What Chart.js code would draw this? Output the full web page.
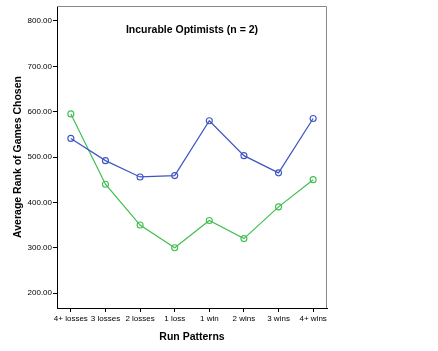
<!DOCTYPE html>
<html>
<head>
<meta charset="utf-8">
<script src="https://cdn.jsdelivr.net/npm/chart.js@4.4.1/dist/chart.umd.min.js"></script>
<style>
html,body{margin:0;padding:0;background:#fff;}
#wrap{width:438px;height:351px;position:relative;}
</style>
</head>
<body>
<div id="wrap"><canvas id="c" width="438" height="351"></canvas></div>
<script>
const categories = ["4+ losses","3 losses","2 losses","1 loss","1 win","2 wins","3 wins","4+ wins"];
const seriesBlue = [541, 492, 456, 459, 580, 503, 465, 585];
const seriesGreen = [595, 440, 350, 300, 360, 320, 390, 450];
const yTicks = [200, 300, 400, 500, 600, 700, 800];
const chartTitle = "Incurable Optimists (n = 2)";
const xTitle = "Run Patterns";
const yTitle = "Average Rank of Games Chosen";

const toPts = arr => arr.map((v,i)=>({x:i,y:v}));
const FONT = "'Liberation Sans', Arial, sans-serif";

const framePlugin = {
  id:'frame',
  afterDraw(chart){
    const {ctx, chartArea:a} = chart;
    ctx.save();
    ctx.strokeStyle = '#888';
    ctx.lineWidth = 1;
    ctx.beginPath();
    ctx.moveTo(a.left, a.top+0.5);
    ctx.lineTo(a.right-0.5, a.top+0.5);
    ctx.lineTo(a.right-0.5, a.bottom);
    ctx.stroke();
    ctx.fillStyle = '#000';
    ctx.font = "bold 10.5px " + FONT;
    ctx.textAlign = 'center';
    ctx.textBaseline = 'middle';
    ctx.fillText(chartTitle, (a.left+a.right)/2, 30);
    ctx.restore();
  }
};

new Chart(document.getElementById('c'), {
  type:'line',
  data:{
    datasets:[
      {label:'Blue', data:toPts(seriesBlue), borderColor:'#3d55c2', backgroundColor:'rgba(0,0,0,0)',
       borderWidth:1.2, pointRadius:3, pointBorderWidth:1.1, pointBackgroundColor:'rgba(0,0,0,0)', pointBorderColor:'#3d55c2', tension:0},
      {label:'Green', data:toPts(seriesGreen), borderColor:'#3fbf4f', backgroundColor:'rgba(0,0,0,0)',
       borderWidth:1.2, pointRadius:3, pointBorderWidth:1.1, pointBackgroundColor:'rgba(0,0,0,0)', pointBorderColor:'#3fbf4f', tension:0}
    ]
  },
  options:{
    responsive:false,
    animation:false,
    devicePixelRatio:1,
    layout:{padding:{left:0, top:6, right:111, bottom:0}},
    plugins:{legend:{display:false}, tooltip:{enabled:false}},
    scales:{
      x:{
        type:'linear', min:-0.4, max:7.4,
        afterFit(s){ s.height = 43; },
        afterBuildTicks(s){ s.ticks = categories.map((c,i)=>({value:i})); },
        grid:{display:true, drawOnChartArea:false, drawTicks:true, tickLength:4, color:'#000'},
        border:{display:true, color:'#000', width:1},
        ticks:{color:'#000', font:{family:FONT, size:8}, padding:2, maxRotation:0, autoSkip:false,
          callback:(v)=>categories[v]},
        title:{display:true, text:xTitle, color:'#000', font:{family:FONT, size:10.5, weight:'bold'}, padding:{top:4,bottom:8}}
      },
      y:{
        min:167, max:833,
        afterFit(s){ s.width = 57; },
        afterBuildTicks(s){ s.ticks = yTicks.map(v=>({value:v})); },
        grid:{display:true, drawOnChartArea:false, drawTicks:true, tickLength:4, color:'#000'},
        border:{display:true, color:'#000', width:1},
        ticks:{color:'#000', font:{family:FONT, size:8}, padding:1,
          callback:(v)=>Number(v).toFixed(2)},
        title:{display:true, text:yTitle, color:'#000', font:{family:FONT, size:10.5, weight:'bold'}, padding:{top:12,bottom:0}}
      }
    }
  },
  plugins:[framePlugin]
});
</script>
</body>
</html>
